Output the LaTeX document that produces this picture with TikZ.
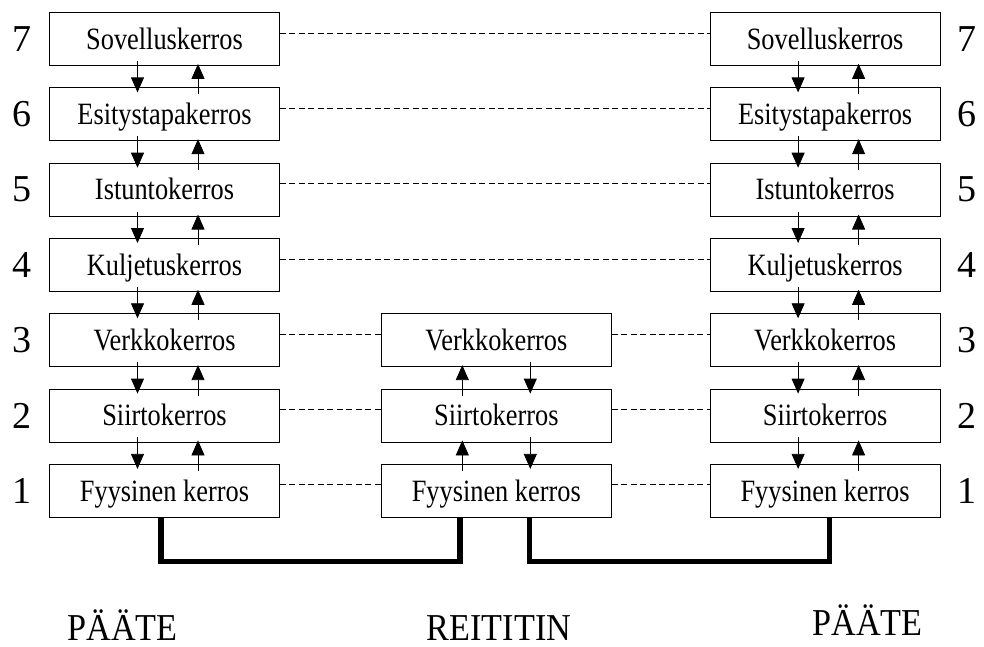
\documentclass[tikz,border=0pt]{standalone}
\usepackage{fontspec}
\setmainfont{Liberation Serif}
\newfontfamily\layerfont[FakeStretch=0.85]{Liberation Serif}
\newfontfamily\sitefont[FakeStretch=0.9]{Liberation Serif}
\usetikzlibrary{positioning,arrows.meta}
\tikzset{
  layer/.style={rectangle, draw, line width=0.8pt, minimum width=230pt,
                minimum height=53pt, inner sep=0pt, text height=20.5pt,
                text depth=0pt, font=\layerfont\fontsize{31}{31}\selectfont},
  num/.style={inner sep=0pt, font=\fontsize{38}{38}\selectfont},
  site/.style={inner sep=0pt, anchor=base, font=\sitefont\fontsize{38}{38}\selectfont},
  flow/.style={-{Triangle[length=15pt,width=13pt]}, line width=0.8pt},
  peer/.style={line width=0.8pt, dash pattern=on 6pt off 3.5pt},
  cable/.style={line width=5.5pt},
}
\begin{document}
\begin{tikzpicture}[x=1pt, y=-1pt, node distance=21.5pt]
  \useasboundingbox (0,0) rectangle (984,646);

  % left host
  \node[layer] (l7) at (164.5,39) {Sovelluskerros};
  \node[layer, below=of l7] (l6) {Esitystapakerros};
  \node[layer, below=of l6] (l5) {Istuntokerros};
  \node[layer, below=of l5] (l4) {Kuljetuskerros};
  \node[layer, below=of l4] (l3) {Verkkokerros};
  \node[layer, below=of l3] (l2) {Siirtokerros};
  \node[layer, below=of l2] (l1) {Fyysinen kerros};

  % router
  \node[layer, right=101pt of l3] (m3) {Verkkokerros};
  \node[layer, below=of m3] (m2) {Siirtokerros};
  \node[layer, below=of m2] (m1) {Fyysinen kerros};

  % right host
  \node[layer, right=98pt of m3] (r3) {Verkkokerros};
  \node[layer, below=of r3] (r2) {Siirtokerros};
  \node[layer, below=of r2] (r1) {Fyysinen kerros};
  \node[layer, above=of r3] (r4) {Kuljetuskerros};
  \node[layer, above=of r4] (r5) {Istuntokerros};
  \node[layer, above=of r5] (r6) {Esitystapakerros};
  \node[layer, above=of r6] (r7) {Sovelluskerros};

  % layer numbers
  \node[num, left=17pt of l7] (n7) {7};
  \node[num, left=17pt of l6] (n6) {6};
  \node[num, left=17pt of l5] (n5) {5};
  \node[num, left=17pt of l4] (n4) {4};
  \node[num, left=17pt of l3] (n3) {3};
  \node[num, left=17pt of l2] (n2) {2};
  \node[num, left=17pt of l1] (n1) {1};
  \node[num, right=17pt of r7] (q7) {7};
  \node[num, right=17pt of r6] (q6) {6};
  \node[num, right=17pt of r5] (q5) {5};
  \node[num, right=17pt of r4] (q4) {4};
  \node[num, right=17pt of r3] (q3) {3};
  \node[num, right=17pt of r2] (q2) {2};
  \node[num, right=17pt of r1] (q1) {1};

  \node[site] (pa) at (122.5,640) {PÄÄTE};
  \node[site] (re) at (499,640.5) {REITITIN};
  \node[site] (pb) at (867.5,635) {PÄÄTE};

  % down and up the left stack
  \draw[flow] ([xshift=-27pt,yshift=5pt]l7.south) -- ([xshift=-27pt,yshift=-5pt]l6.north);
  \draw[flow] ([xshift=-27pt,yshift=5pt]l6.south) -- ([xshift=-27pt,yshift=-5pt]l5.north);
  \draw[flow] ([xshift=-27pt,yshift=5pt]l5.south) -- ([xshift=-27pt,yshift=-5pt]l4.north);
  \draw[flow] ([xshift=-27pt,yshift=5pt]l4.south) -- ([xshift=-27pt,yshift=-5pt]l3.north);
  \draw[flow] ([xshift=-27pt,yshift=5pt]l3.south) -- ([xshift=-27pt,yshift=-5pt]l2.north);
  \draw[flow] ([xshift=-27pt,yshift=5pt]l2.south) -- ([xshift=-27pt,yshift=-5pt]l1.north);
  \draw[flow] ([xshift=33.5pt,yshift=-7pt]l6.north) -- ([xshift=33.5pt,yshift=2pt]l7.south);
  \draw[flow] ([xshift=33.5pt,yshift=-7pt]l5.north) -- ([xshift=33.5pt,yshift=2pt]l6.south);
  \draw[flow] ([xshift=33.5pt,yshift=-7pt]l4.north) -- ([xshift=33.5pt,yshift=2pt]l5.south);
  \draw[flow] ([xshift=33.5pt,yshift=-7pt]l3.north) -- ([xshift=33.5pt,yshift=2pt]l4.south);
  \draw[flow] ([xshift=33.5pt,yshift=-7pt]l2.north) -- ([xshift=33.5pt,yshift=2pt]l3.south);
  \draw[flow] ([xshift=33.5pt,yshift=-7pt]l1.north) -- ([xshift=33.5pt,yshift=2pt]l2.south);

  % router stack
  \draw[flow] ([xshift=-34pt,yshift=-7pt]m1.north) -- ([xshift=-34pt,yshift=2pt]m2.south);
  \draw[flow] ([xshift=-34pt,yshift=-7pt]m2.north) -- ([xshift=-34pt,yshift=2pt]m3.south);
  \draw[flow] ([xshift=34pt,yshift=5pt]m3.south) -- ([xshift=34pt,yshift=-5pt]m2.north);
  \draw[flow] ([xshift=34pt,yshift=5pt]m2.south) -- ([xshift=34pt,yshift=-5pt]m1.north);

  % right stack
  \draw[flow] ([xshift=-27pt,yshift=5pt]r7.south) -- ([xshift=-27pt,yshift=-5pt]r6.north);
  \draw[flow] ([xshift=-27pt,yshift=5pt]r6.south) -- ([xshift=-27pt,yshift=-5pt]r5.north);
  \draw[flow] ([xshift=-27pt,yshift=5pt]r5.south) -- ([xshift=-27pt,yshift=-5pt]r4.north);
  \draw[flow] ([xshift=-27pt,yshift=5pt]r4.south) -- ([xshift=-27pt,yshift=-5pt]r3.north);
  \draw[flow] ([xshift=-27pt,yshift=5pt]r3.south) -- ([xshift=-27pt,yshift=-5pt]r2.north);
  \draw[flow] ([xshift=-27pt,yshift=5pt]r2.south) -- ([xshift=-27pt,yshift=-5pt]r1.north);
  \draw[flow] ([xshift=33.5pt,yshift=-7pt]r6.north) -- ([xshift=33.5pt,yshift=2pt]r7.south);
  \draw[flow] ([xshift=33.5pt,yshift=-7pt]r5.north) -- ([xshift=33.5pt,yshift=2pt]r6.south);
  \draw[flow] ([xshift=33.5pt,yshift=-7pt]r4.north) -- ([xshift=33.5pt,yshift=2pt]r5.south);
  \draw[flow] ([xshift=33.5pt,yshift=-7pt]r3.north) -- ([xshift=33.5pt,yshift=2pt]r4.south);
  \draw[flow] ([xshift=33.5pt,yshift=-7pt]r2.north) -- ([xshift=33.5pt,yshift=2pt]r3.south);
  \draw[flow] ([xshift=33.5pt,yshift=-7pt]r1.north) -- ([xshift=33.5pt,yshift=2pt]r2.south);

  % peer-to-peer
  \draw[peer] ([yshift=6pt]l7.east) -- ([yshift=6pt]r7.west);
  \draw[peer] ([yshift=6pt]l6.east) -- ([yshift=6pt]r6.west);
  \draw[peer] ([yshift=6pt]l5.east) -- ([yshift=6pt]r5.west);
  \draw[peer] ([yshift=6pt]l4.east) -- ([yshift=6pt]r4.west);
  \draw[peer] ([yshift=6pt]l3.east) -- ([yshift=6pt]m3.west);
  \draw[peer] ([yshift=6pt]l2.east) -- ([yshift=6pt]m2.west);
  \draw[peer] ([yshift=6pt]l1.east) -- ([yshift=6pt]m1.west);
  \draw[peer] ([yshift=6pt]m3.east) -- ([yshift=6pt]r3.west);
  \draw[peer] ([yshift=6pt]m2.east) -- ([yshift=6pt]r2.west);
  \draw[peer] ([yshift=6pt]m1.east) -- ([yshift=6pt]r1.west);

  % physical links
  \draw[cable] ([xshift=-3.5pt]l1.south) -- ++(0,44) -| ([xshift=-36.5pt]m1.south);
  \draw[cable] ([xshift=33pt]m1.south) -- ++(0,44) -| ([xshift=4.5pt]r1.south);
\end{tikzpicture}
\end{document}
